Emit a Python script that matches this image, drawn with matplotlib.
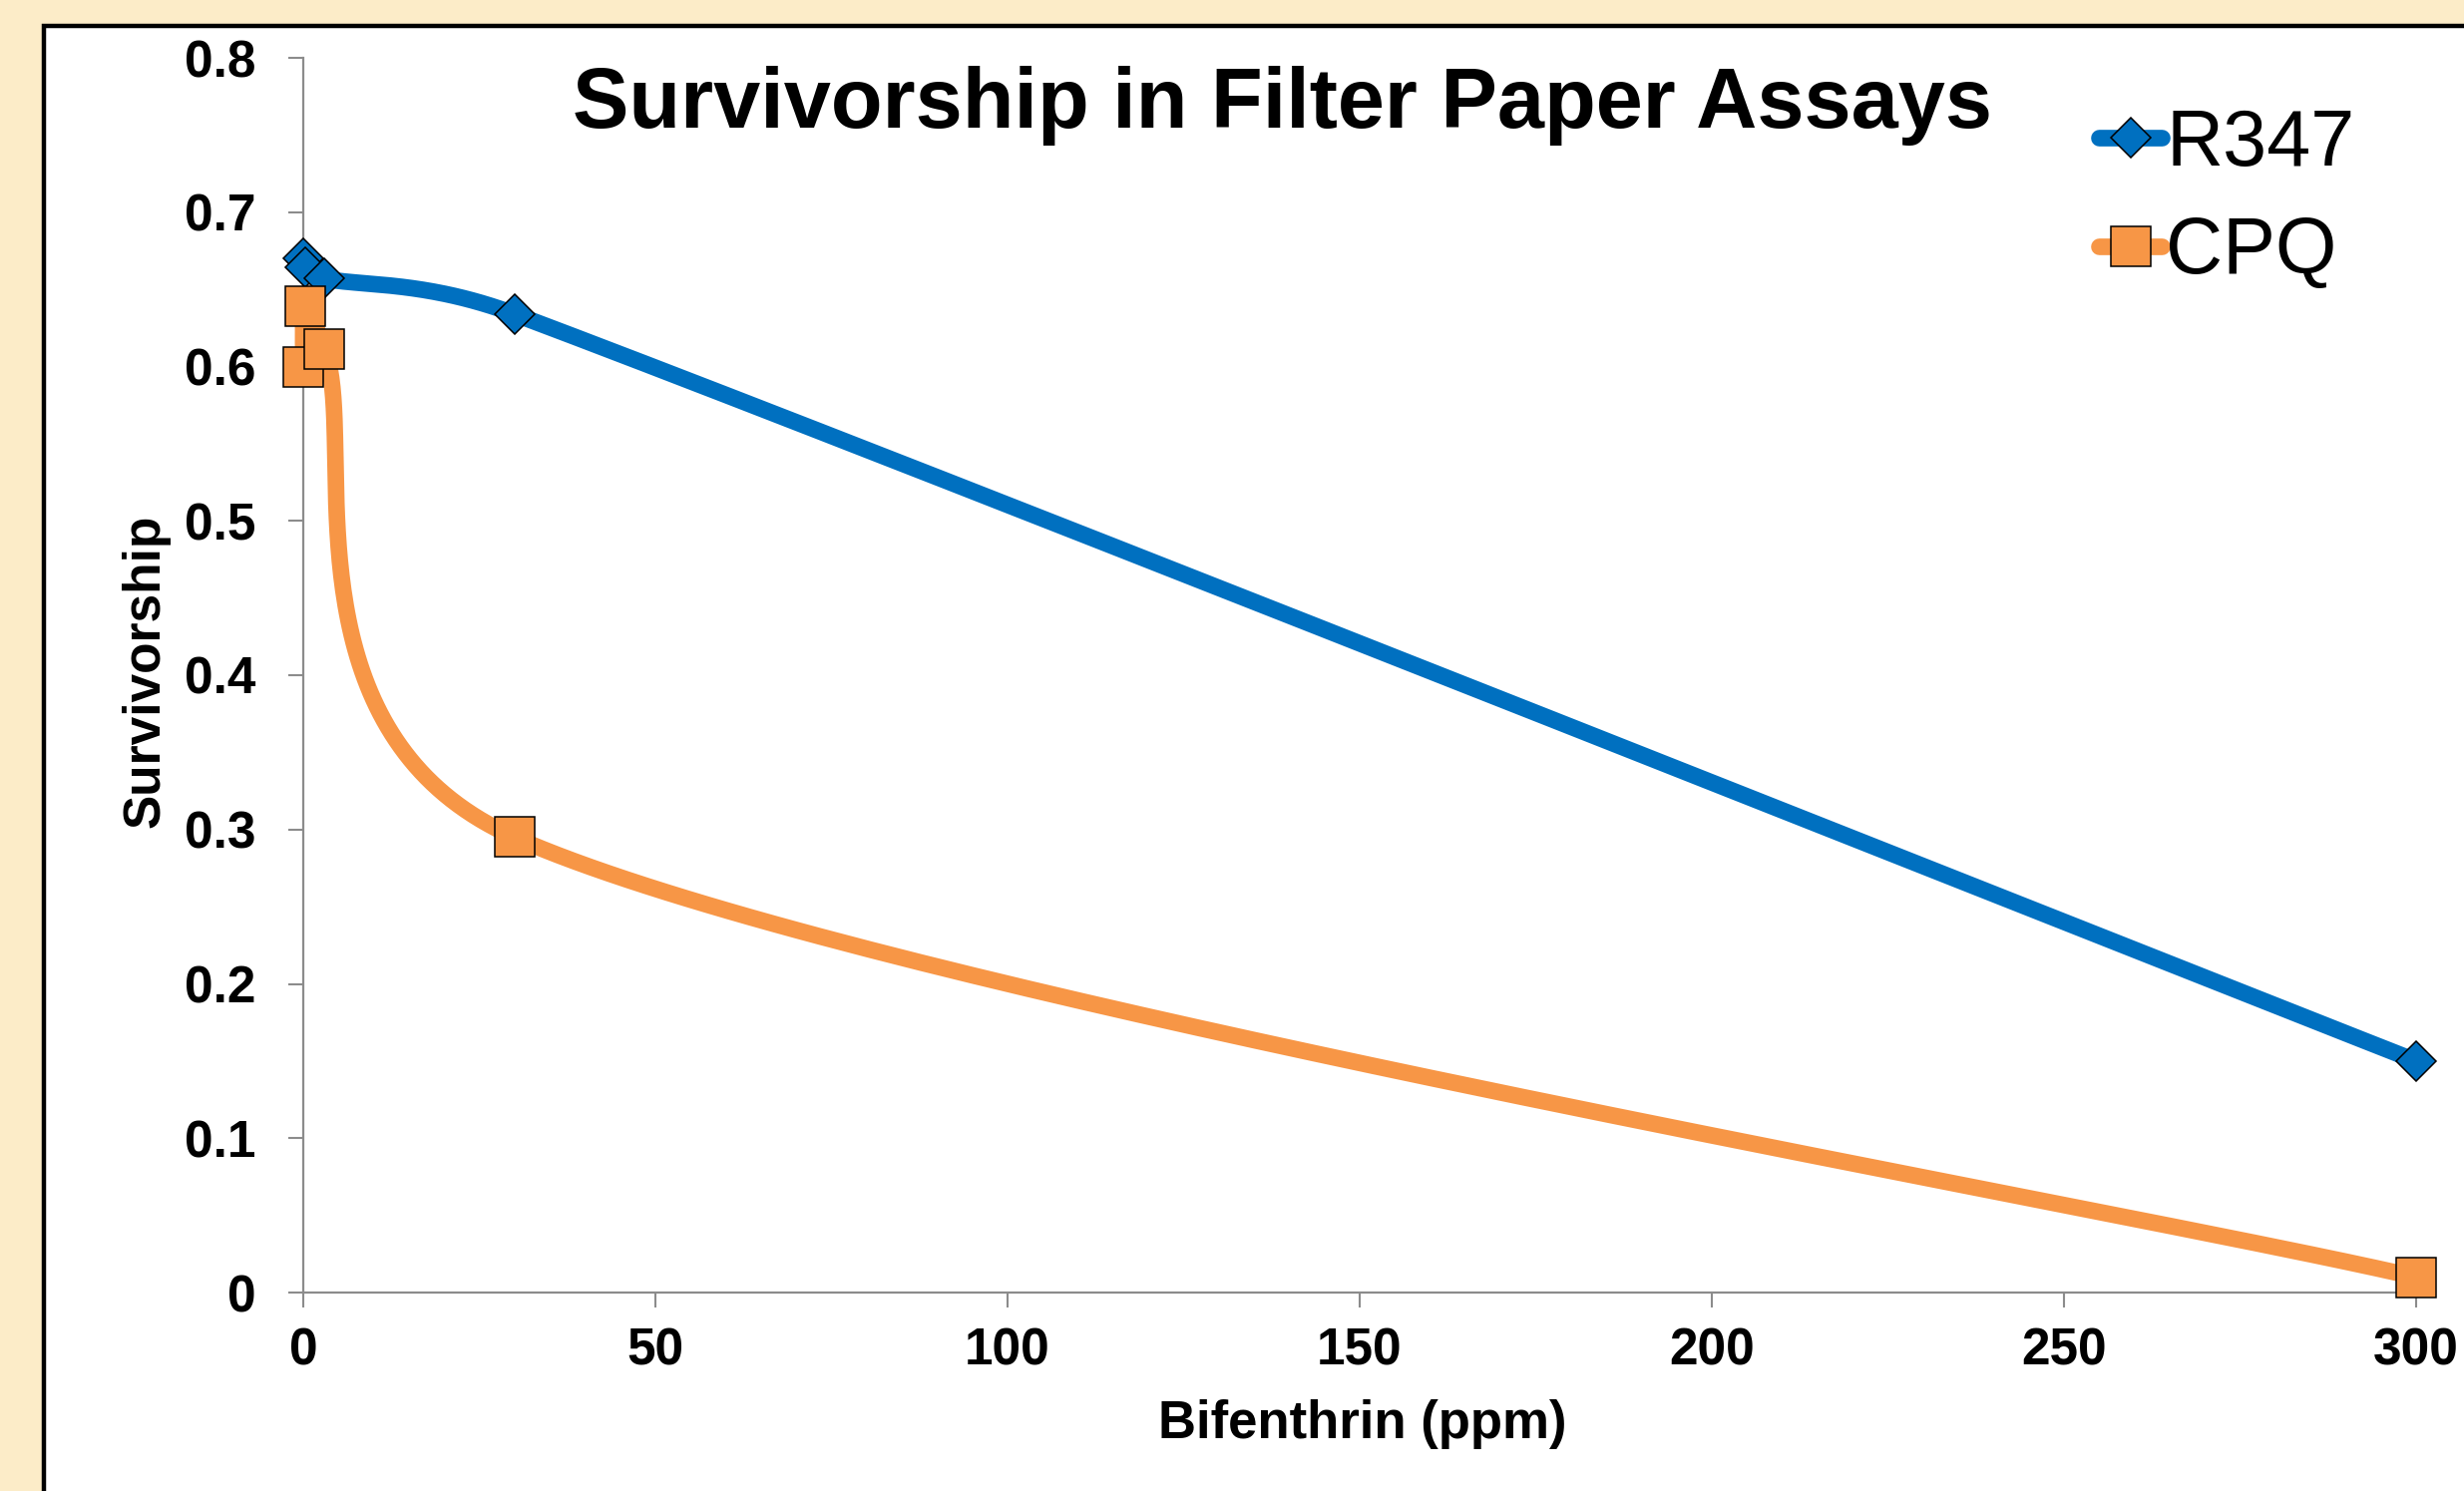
import matplotlib
matplotlib.use("Agg")
import matplotlib.pyplot as plt
from matplotlib.lines import Line2D
from matplotlib.patches import Rectangle
import numpy as np

plt.rcParams['font.family'] = ['Liberation Sans', 'DejaVu Sans']

# data
dose = [0, 0.3, 3, 30, 300]
r347 = [0.670, 0.664, 0.657, 0.634, 0.150]
cpq = [0.600, 0.639, 0.611, 0.295, 0.010]

x_ticks = [0, 50, 100, 150, 200, 250, 300]
y_ticks = [0, 0.1, 0.2, 0.3, 0.4, 0.5, 0.6, 0.7, 0.8]
y_tick_labels = ['0', '0.1', '0.2', '0.3', '0.4', '0.5', '0.6', '0.7', '0.8']

BLUE = '#0070C0'
ORANGE = '#F79646'
CREAM = '#FCECC8'
AXIS_GRAY = '#8C8C8C'

W, H = 2470, 1495
fig = plt.figure(figsize=(W / 100, H / 100), dpi=100, facecolor=CREAM)

# white panel with black frame (runs off the right and bottom)
fig.patches.append(Rectangle((44 / W, -0.2), 2.0, 1.2 - 26 / H,
                             transform=fig.transFigure, facecolor='white',
                             edgecolor='black', linewidth=3.2, zorder=-5))

ax = fig.add_axes([304 / W, 1 - 1296 / H, (2422 - 304) / W, (1296 - 58) / H])
ax.set_facecolor('none')
ax.set_xlim(0, 300)
ax.set_ylim(0, 0.8)


def excel_smooth(ax, xs, ys, n=80):
    """Excel-style smoothed line: bezier segments built in pixel space."""
    pts = ax.transData.transform(np.column_stack([xs, ys]))
    P = np.vstack([pts[0], pts, pts[-1]])
    out = []
    for i in range(1, len(P) - 2):
        p0, p1, p2, p3 = P[i - 1], P[i], P[i + 1], P[i + 2]
        half = np.linalg.norm(p2 - p1) / 2
        d1 = (p2 - p0) / 6
        d2 = (p3 - p1) / 6
        if np.linalg.norm(d1) > half:
            d1 = d1 / np.linalg.norm(d1) * half
        if np.linalg.norm(d2) > half:
            d2 = d2 / np.linalg.norm(d2) * half
        c1 = p1 + d1
        c2 = p2 - d2
        t = np.linspace(0, 1, n)[:, None]
        b = (1 - t) ** 3 * p1 + 3 * (1 - t) ** 2 * t * c1 + 3 * (1 - t) * t ** 2 * c2 + t ** 3 * p2
        out.append(b)
    curve = np.vstack(out)
    return ax.transData.inverted().transform(curve)


series = [('R347', r347, BLUE, 'D', 20),
          ('CPQ', cpq, ORANGE, 's', 29)]

handles = []
for k, (name, vals, col, mk, ms) in enumerate(series):
    c = excel_smooth(ax, dose, vals)
    ax.plot(c[:, 0], c[:, 1], color=col, lw=12, solid_capstyle='round',
            clip_on=False, zorder=2 + 2 * k)
    ax.plot(dose, vals, ls='none', marker=mk, ms=ms, mfc=col, mec='black',
            mew=1.1, clip_on=False, zorder=3 + 2 * k)
    handles.append(Line2D([], [], color=col, lw=12, solid_capstyle='round',
                          marker=mk, ms=ms, mfc=col, mec='black', mew=1.1,
                          label=name))

for side in ['top', 'right']:
    ax.spines[side].set_visible(False)
for side in ['left', 'bottom']:
    ax.spines[side].set_color(AXIS_GRAY)
    ax.spines[side].set_linewidth(1.6)

ax.set_xticks(x_ticks)
ax.set_xticklabels([str(v) for v in x_ticks])
ax.set_yticks(y_ticks)
ax.set_yticklabels(y_tick_labels)
ax.tick_params(axis='both', direction='out', length=11, width=1.5,
               color=AXIS_GRAY, labelsize=37)
ax.tick_params(axis='x', pad=14)
ax.tick_params(axis='y', pad=23)
for lab in ax.get_xticklabels() + ax.get_yticklabels():
    lab.set_fontweight('bold')

fig.text(1285 / W, 1 - 128 / H, 'Survivorship in Filter Paper Assays',
         ha='center', va='baseline', fontsize=61, fontweight='bold')
fig.text(1366 / W, 1 - 1428 / H, 'Bifenthrin (ppm)', ha='center',
         va='center', fontsize=38, fontweight='bold')
fig.text(146 / W, 1 - 673 / H, 'Survivorship', ha='center', va='center',
         rotation=90, fontsize=37, fontweight='bold')

fig.legend(handles=handles, loc='upper left',
           bbox_to_anchor=(2104 / W, 1 - 108 / H), frameon=False,
           fontsize=57, handlelength=0.8, handletextpad=0.05,
           labelspacing=0.42, borderpad=0, borderaxespad=0, numpoints=1)

fig.savefig('out.png', dpi=100, facecolor=CREAM)
